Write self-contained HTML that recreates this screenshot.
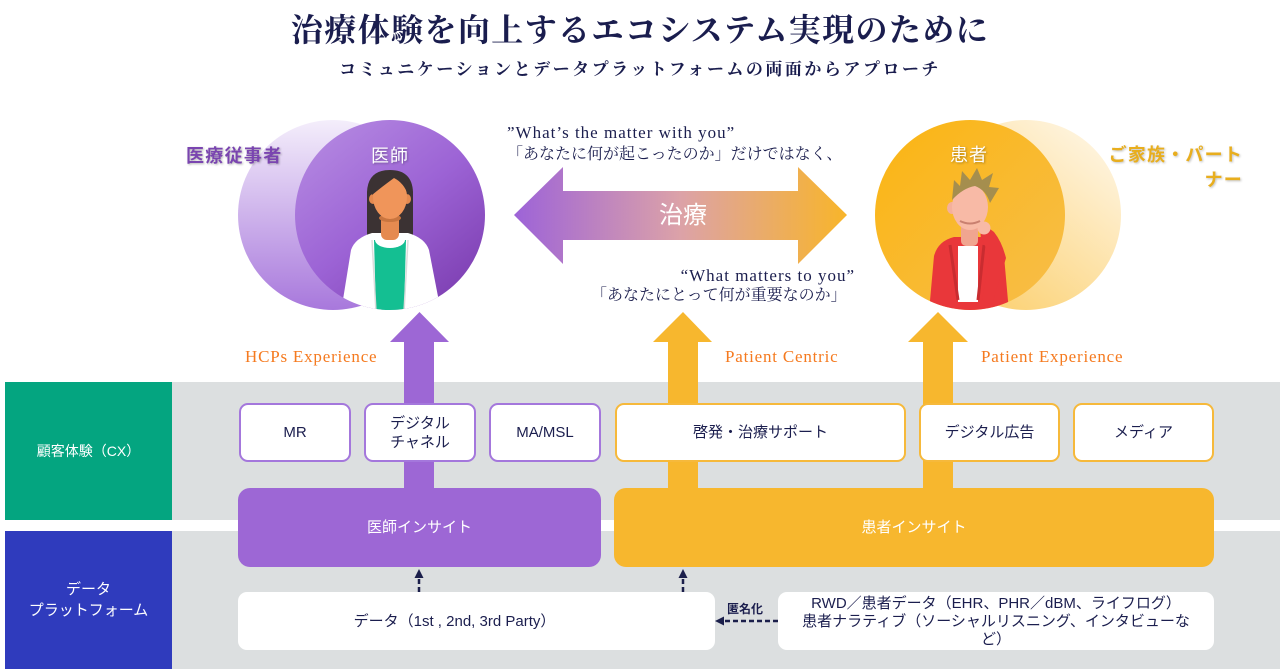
<!DOCTYPE html>
<html><head><meta charset="utf-8">
<style>
*{margin:0;padding:0;box-sizing:border-box}
html,body{width:1280px;height:670px;overflow:hidden;background:#fff}
body{position:relative;font-family:"Liberation Sans","Noto Sans CJK JP",sans-serif;color:#1b1e4e}
.abs{position:absolute}
.serif{font-family:"Liberation Serif","Noto Serif CJK JP","Noto Serif CJK SC",serif}
.box{position:absolute;background:#fff;border-radius:9px;display:flex;align-items:center;justify-content:center;text-align:center;font-size:15px;line-height:19px;color:#1b1e4e}
.pb{border:2px solid #a477dc}
.ob{border:2px solid #f6b93b}
.lbl{position:absolute;font-size:17px;color:#f57a1f;letter-spacing:0.8px;white-space:nowrap}
.q{position:absolute;white-space:nowrap;color:#1b1e4e}
</style></head><body>

<!-- bands -->
<div class="abs" style="left:172px;top:382px;width:1108px;height:138px;background:#dcdfe0"></div>
<div class="abs" style="left:172px;top:531px;width:1108px;height:138px;background:#dcdfe0"></div>
<div class="abs" style="left:5px;top:382px;width:167px;height:138px;background:#04a580;color:#fff;font-size:14px;display:flex;align-items:center;justify-content:center">顧客体験（CX）</div>
<div class="abs" style="left:5px;top:531px;width:167px;height:138px;background:#2f3bbd;color:#fff;font-size:15px;line-height:21px;display:flex;align-items:center;justify-content:center;text-align:center">データ<br>プラットフォーム</div>

<svg class="abs" style="left:0;top:0" width="1280" height="670" viewBox="0 0 1280 670">
<defs>
<linearGradient id="lp" x1="0" y1="0" x2="0" y2="1"><stop offset="0" stop-color="#f4eefb"/><stop offset="1" stop-color="#a878dc"/></linearGradient>
<linearGradient id="dp" x1="0.1" y1="0" x2="0.9" y2="1"><stop offset="0" stop-color="#b68be2"/><stop offset="0.5" stop-color="#9c63d5"/><stop offset="1" stop-color="#7a3bae"/></linearGradient>
<linearGradient id="ly" x1="0.9" y1="0" x2="0.1" y2="1"><stop offset="0" stop-color="#fff7e8"/><stop offset="1" stop-color="#fbcd66"/></linearGradient>
<linearGradient id="dy" x1="0" y1="0" x2="1" y2="1"><stop offset="0" stop-color="#fbb512"/><stop offset="1" stop-color="#f7be4a"/></linearGradient>
<linearGradient id="ha" x1="0" y1="0" x2="1" y2="0"><stop offset="0" stop-color="#9d63d8"/><stop offset="0.5" stop-color="#dca2a8"/><stop offset="1" stop-color="#f8b52a"/></linearGradient>
<clipPath id="cl"><circle cx="390" cy="215" r="95"/></clipPath>
<clipPath id="cr"><circle cx="970" cy="215" r="95"/></clipPath>
</defs>

<!-- left circles -->
<circle cx="333" cy="215" r="95" fill="url(#lp)"/>
<circle cx="390" cy="215" r="95" fill="url(#dp)"/>
<g clip-path="url(#cl)">
  <path d="M367,240 L367,192 Q368,170 390,170 Q412,170 413,192 L413,240 Z" fill="#3b3233"/>
  <path d="M341,312 L351,250 Q355,238 372,233 L408,233 Q425,238 429,250 L441,312 Z" fill="#fff"/>
  <path d="M374,240 L406,240 L404,312 L376,312 Z" fill="#14bf92"/>
  <path d="M372,240 L376,312 M408,240 L404,312" stroke="#dcdcdc" stroke-width="1.5"/>
  <ellipse cx="390" cy="240" rx="15" ry="8" fill="#fff"/>
  <rect x="381" y="210" width="18" height="30" rx="6" fill="#e58a50"/>
  <ellipse cx="390" cy="218" rx="11" ry="4" fill="#c9753f"/>
  <ellipse cx="373" cy="199" rx="4" ry="5" fill="#e58a50"/>
  <ellipse cx="407" cy="199" rx="4" ry="5" fill="#e58a50"/>
  <ellipse cx="390" cy="197" rx="17" ry="22" fill="#f0955a"/>
  <path d="M372,195 Q370,172 390,172 Q410,172 408,195 Q404,183 394,178 Q383,186 372,195 Z" fill="#3b3233"/>
</g>

<!-- right circles -->
<circle cx="1026" cy="215" r="95" fill="url(#ly)"/>
<circle cx="970" cy="215" r="95" fill="url(#dy)"/>
<g clip-path="url(#cr)">
  <path d="M929,312 L934,256 Q938,241 954,237 L986,237 Q1000,241 1004,256 L1009,312 Z" fill="#e9373a"/>
  <rect x="958" y="246" width="20" height="56" fill="#fff"/>
  <path d="M950,245 L958,300 M984,245 L978,300" stroke="#c92c30" stroke-width="3"/>
  <rect x="961" y="220" width="17" height="26" rx="5" fill="#f0a590"/>
  <ellipse cx="952" cy="208" rx="5" ry="6" fill="#f5b09c"/>
  <ellipse cx="970" cy="207" rx="18" ry="23" fill="#f8baa6"/>
  <path d="M960,221 Q970,226 980,221" stroke="#c98070" stroke-width="2" fill="none"/>
  <path d="M952,200 L954,180 L960,186 L962,171 L970,180 L977,168 L982,180 L993,173 L989,187 L999,188 L990,203 Q986,190 975,186 Q963,188 952,200 Z" fill="#a58e4e"/>
  <path d="M992,305 L1006,258 Q1002,242 994,232 L986,226 Q979,229 981,238 L990,256 L982,300 Z" fill="#e9373a"/>
  <circle cx="984" cy="228" r="6.5" fill="#f8baa6"/>
</g>

<!-- horizontal double arrow -->
<polygon points="514,215 563,167 563,191 798,191 798,167 847,215 798,264 798,240 563,240 563,264" fill="url(#ha)"/>

<!-- vertical arrows -->
<polygon points="419.5,312 449,342 434,342 434,490 404,490 404,342 390,342" fill="#9d67d5"/>
<polygon points="683,312 712,342 698,342 698,490 668,490 668,342 653,342" fill="#f7b72e"/>
<polygon points="938,312 968,342 953,342 953,490 923,490 923,342 908,342" fill="#f7b72e"/>

<!-- dashed arrows -->
<line x1="419" y1="592" x2="419" y2="578" stroke="#1b1f4b" stroke-width="2.5" stroke-dasharray="5,3"/>
<polygon points="419,569 414.5,578 423.5,578" fill="#1b1f4b"/>
<line x1="683" y1="592" x2="683" y2="578" stroke="#1b1f4b" stroke-width="2.5" stroke-dasharray="5,3"/>
<polygon points="683,569 678.5,578 687.5,578" fill="#1b1f4b"/>
<line x1="778" y1="621" x2="724" y2="621" stroke="#1b1f4b" stroke-width="2.5" stroke-dasharray="5,3"/>
<polygon points="715,621 724,616.5 724,625.5" fill="#1b1f4b"/>
</svg>

<!-- title -->
<div class="abs serif" style="left:0;top:9px;width:1280px;text-align:center;font-size:32px;line-height:42px;font-weight:bold;letter-spacing:1.4px;color:#1a1d4e">治療体験を向上するエコシステム実現のために</div>
<div class="abs serif" style="left:0;top:59px;width:1280px;text-align:center;font-size:17px;line-height:22px;font-weight:bold;letter-spacing:2.5px;color:#1a1d4e">コミュニケーションとデータプラットフォームの両面からアプローチ</div>

<!-- circle labels -->
<div class="abs" style="left:186px;top:144px;font-size:18px;line-height:24px;font-weight:bold;color:#7a45b0;letter-spacing:1.3px;text-shadow:1px 1px 2px rgba(0,0,0,0.3);white-space:nowrap">医療従事者</div>
<div class="abs" style="left:371px;top:144px;font-size:18px;line-height:24px;color:#fff;letter-spacing:1px;text-shadow:1px 1px 2px rgba(0,0,0,0.3);white-space:nowrap">医師</div>
<div class="abs" style="left:950px;top:143px;font-size:18px;line-height:24px;color:#fff;letter-spacing:1px;text-shadow:1px 1px 2px rgba(0,0,0,0.3);white-space:nowrap">患者</div>
<div class="abs" style="left:1060px;top:143px;width:183px;text-align:right;font-size:18px;line-height:25px;font-weight:bold;color:#e8ae1e;letter-spacing:1.2px;text-shadow:1px 1px 2px rgba(0,0,0,0.25)">ご家族・パート<br>ナー</div>

<!-- quotes -->
<div class="q serif" style="left:507px;top:122px;font-size:17px;line-height:22px;letter-spacing:1px">”What’s the matter with you”</div>
<div class="q serif" style="left:507px;top:144px;font-size:16px;line-height:22px">「あなたに何が起こったのか」だけではなく、</div>
<div class="q serif" style="left:600px;top:265px;width:255px;text-align:right;font-size:17px;line-height:22px;letter-spacing:1px">“What matters to you”</div>
<div class="q serif" style="left:591px;top:285px;font-size:16px;line-height:22px">「あなたにとって何が重要なのか」</div>
<div class="abs" style="left:633px;top:201px;width:100px;text-align:center;font-size:24px;line-height:30px;color:#fff">治療</div>

<!-- arrow labels -->
<div class="lbl serif" style="left:245px;top:347px">HCPs Experience</div>
<div class="lbl serif" style="left:725px;top:347px">Patient Centric</div>
<div class="lbl serif" style="left:981px;top:347px">Patient Experience</div>

<!-- CX boxes -->
<div class="box pb" style="left:239px;top:403px;width:112px;height:59px">MR</div>
<div class="box pb" style="left:364px;top:403px;width:112px;height:59px">デジタル<br>チャネル</div>
<div class="box pb" style="left:489px;top:403px;width:112px;height:59px">MA/MSL</div>
<div class="box ob" style="left:615px;top:403px;width:291px;height:59px">啓発・治療サポート</div>
<div class="box ob" style="left:919px;top:403px;width:141px;height:59px">デジタル広告</div>
<div class="box ob" style="left:1073px;top:403px;width:141px;height:59px">メディア</div>

<!-- insights -->
<div class="box" style="left:238px;top:488px;width:363px;height:79px;background:#9d67d5;color:#fff;border-radius:12px">医師インサイト</div>
<div class="box" style="left:614px;top:488px;width:600px;height:79px;background:#f7b72e;color:#fff;border-radius:12px">患者インサイト</div>

<!-- data -->
<div class="box" style="left:238px;top:592px;width:477px;height:58px;border-radius:9px"><span style="position:relative;left:-22px">データ（1st , 2nd, 3rd Party）</span></div>
<div class="box" style="left:778px;top:592px;width:436px;height:58px;font-size:15px;line-height:18px;padding-top:2px">RWD／患者データ（EHR、PHR／dBM、ライフログ）<br>患者ナラティブ（ソーシャルリスニング、インタビューな<br>ど）</div>
<div class="abs" style="left:727px;top:601px;font-size:12px;line-height:16px;font-weight:bold;color:#1b1e4e">匿名化</div>

</body></html>
